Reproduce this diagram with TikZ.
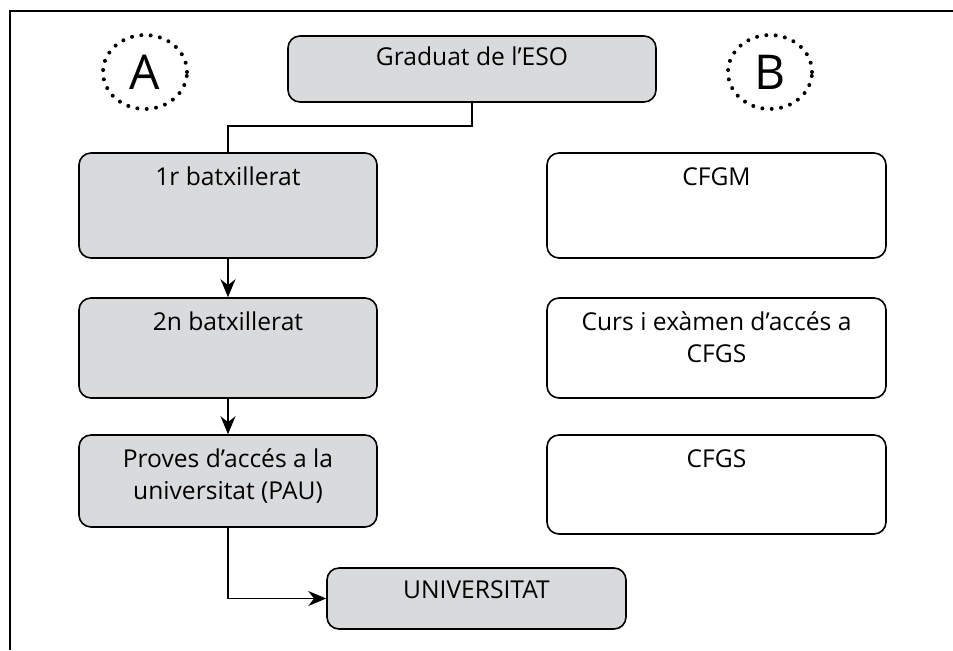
\documentclass[tikz,border=0pt]{standalone}
\usepackage{fontspec}
\setmainfont{Open Sans}
\usetikzlibrary{arrows.meta,shapes.geometric}
\definecolor{boxgray}{RGB}{217,218,220}

\begin{document}
\begin{tikzpicture}[
  x=0.5pt,
  y=-0.5pt,
  graybox/.style={
    rectangle,
    rounded corners=6pt,
    fill=boxgray,
    draw,
    line width=0.8pt,
    inner sep=0pt
  },
  whitebox/.style={
    graybox,
    fill=white
  },
  boxtext/.style={
    anchor=base,
    align=center,
    inner sep=0pt,
    font=\fontsize{12.3}{16}\selectfont
  },
  dotcirc/.style={
    ellipse,
    draw,
    line width=2pt,
    line cap=round,
    dash pattern=on 0pt off 4.7pt,
    minimum width=42pt,
    minimum height=37pt,
    inner sep=0pt,
    font=\fontsize{24}{28}\selectfont
  },
  arr/.style={
    line width=0.8pt,
    -{Stealth[length=9pt,width=7.5pt]}
  }
]
\useasboundingbox (0,0) rectangle (953,650);
\draw[line width=0.8pt] (10,650) -- (10,11) -- (953,11);

\node[dotcirc] (circA) at (145,72) {A};
\node[dotcirc] (circB) at (770,72) {B};

\node[graybox, minimum width=184pt, minimum height=33pt] (grad) at (472,69) {};
\node[graybox, minimum width=149pt, minimum height=52.5pt] (bat1) at (228,205.5) {};
\node[graybox, minimum width=149pt, minimum height=50pt] (bat2) at (228,348) {};
\node[graybox, minimum width=149pt, minimum height=46pt] (pau) at (228,481) {};
\node[graybox, minimum width=149.5pt, minimum height=30.5pt] (univ) at (476.5,598.5) {};
\node[whitebox, minimum width=169.5pt, minimum height=52.5pt] (cfgm) at (716.5,205.5) {};
\node[whitebox, minimum width=169.5pt, minimum height=50pt] (curs) at (716.5,348) {};
\node[whitebox, minimum width=169.5pt, minimum height=49.5pt] (cfgs) at (716.5,484.5) {};

\node[boxtext] (gradt) at (472,65) {Graduat de l’ESO};
\node[boxtext] (bat1t) at (228,185) {1r batxillerat};
\node[boxtext] (bat2t) at (228,330) {2n batxillerat};
\node[boxtext] (paut) at (228,499) {Proves d’accés a la\\universitat (PAU)};
\node[boxtext] (univt) at (476.5,598) {UNIVERSITAT};
\node[boxtext] (cfgmt) at (716.5,185) {CFGM};
\node[boxtext] (curst) at (716.5,362) {Curs i exàmen d’accés a\\CFGS};
\node[boxtext] (cfgst) at (716.5,467) {CFGS};

\draw[line width=0.8pt] (grad.south) -- ++(0,23) -| (bat1.north);
\draw[arr] (bat1.south) -- (bat2.north);
\draw[arr] (bat2.south) -- (pau.north);
\draw[arr] (pau.south) |- (univ.west);
\end{tikzpicture}
\end{document}
